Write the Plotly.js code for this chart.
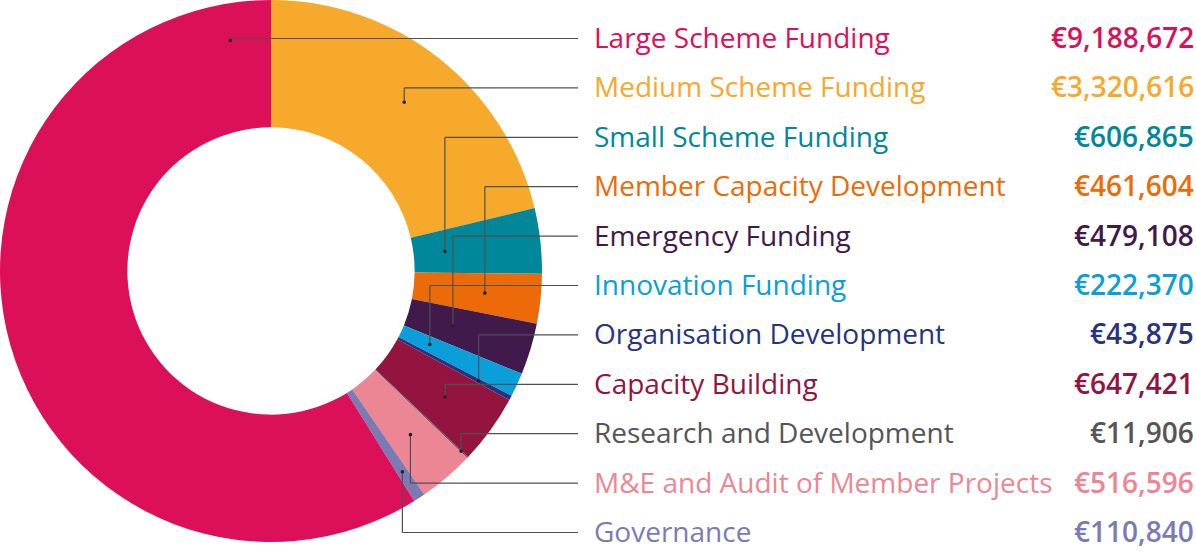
<!DOCTYPE html>
<html>
<head>
<meta charset="utf-8">
<script src="https://cdn.plot.ly/plotly-3.0.1.min.js"></script>
<style>html,body{margin:0;padding:0;background:#fff;}#chart{width:1196px;height:553px;}</style>
</head>
<body>
<div id="chart"></div>
<script>
// ---- data (legend order) ----
const categories = [
  "Large Scheme Funding",
  "Medium Scheme Funding",
  "Small Scheme Funding",
  "Member Capacity Development",
  "Emergency Funding",
  "Innovation Funding",
  "Organisation Development",
  "Capacity Building",
  "Research and Development",
  "M&E and Audit of Member Projects",
  "Governance"
];
const amounts = [9188672, 3320616, 606865, 461604, 479108, 222370, 43875, 647421, 11906, 516596, 110840];
const colors = ["#dc1059", "#f6a92b", "#00879a", "#ec6b08", "#3f1a4b", "#0a9edb", "#27337f", "#93143f", "#555555", "#ec8695", "#7b7bb4"];
const textColors = ["#dc1059", "#f6a92b", "#00879a", "#ec6b08", "#3f1a4b", "#0a9edb", "#27337f", "#93143f", "#555555", "#ec8695", "#7b7bb4"];

// ---- layout constants ----
const W = 1196, H = 553;
const pieSize = 542;                       // px, diameter of the donut
const pieDomainX = [0, pieSize / W];
const pieDomainY = [1 - pieSize / H, 1];
const hole = 0.53;
const leaderRadius = [234, 215, 175, 215, 190, 175, 235, 215, 262, 215, 240]; // px from centre
const labelX = 592, valueX = 1196, lineEndX = 578;
const labelTop = 37, labelStep = 49.4;
const fontFamily = "'Open Sans', 'DejaVu Sans', sans-serif";
const fontSize = 28;

// pie order: clockwise from 12 o'clock, Large scheme last
const order = [1, 2, 3, 4, 5, 6, 7, 8, 9, 10, 0];

const trace = {
  type: "pie",
  labels: order.map(i => categories[i]),
  values: order.map(i => amounts[i]),
  marker: { colors: order.map(i => colors[i]), line: { width: 0 } },
  sort: false,
  direction: "clockwise",
  rotation: 0,
  hole: hole,
  textinfo: "none",
  hoverinfo: "label+value+percent",
  showlegend: false,
  domain: { x: pieDomainX, y: pieDomainY }
};

// geometry of the pie (Plotly: radius = half of smaller domain side)
const domW = (pieDomainX[1] - pieDomainX[0]) * W;
const domH = (pieDomainY[1] - pieDomainY[0]) * H;
const cx = pieDomainX[0] * W + domW / 2;
const cy = (1 - pieDomainY[1]) * H + domH / 2;

const total = amounts.reduce((a, b) => a + b, 0);
const startAngle = {}, endAngle = {};
let acc = 0;
order.forEach(i => {
  startAngle[i] = acc / total * 360;
  acc += amounts[i];
  endAngle[i] = acc / total * 360;
});

const px = x => x / W;
const py = y => 1 - y / H;

const shapes = [];
const annotations = [];
const lineColor = "#505050";

categories.forEach((name, i) => {
  const ly = labelTop + i * labelStep;
  // anchor angle: middle of the slice, except the big slice which is anchored near its end (top)
  let ang = (startAngle[i] + endAngle[i]) / 2;
  if (i === 0) ang = endAngle[i] - 10;
  const rad = ang * Math.PI / 180;
  const r = leaderRadius[i];
  const dx = cx + r * Math.sin(rad);
  const dy = cy - r * Math.cos(rad);

  shapes.push({ type: "line", xref: "paper", yref: "paper", x0: px(dx), y0: py(dy), x1: px(dx), y1: py(ly + 1.5),
    line: { color: lineColor, width: 1.2 } });
  shapes.push({ type: "line", xref: "paper", yref: "paper", x0: px(dx), y0: py(ly + 1.5), x1: px(lineEndX), y1: py(ly + 1.5),
    line: { color: lineColor, width: 1.2 } });
  shapes.push({ type: "circle", xref: "paper", yref: "paper", x0: px(dx - 1.8), x1: px(dx + 1.8), y0: py(dy + 1.8), y1: py(dy - 1.8),
    fillcolor: "#222", line: { width: 0 } });

  annotations.push({ xref: "paper", yref: "paper", x: px(labelX), y: py(ly), xanchor: "left", yanchor: "middle",
    text: name.replace("&", "&amp;"), showarrow: false, font: { family: fontFamily, size: fontSize, color: textColors[i] } });
  annotations.push({ xref: "paper", yref: "paper", x: px(valueX), y: py(ly), xanchor: "right", yanchor: "middle",
    text: "€" + amounts[i].toLocaleString("en-US"), showarrow: false,
    font: { family: fontFamily, size: fontSize, weight: 600, color: textColors[i] } });
});

const layout = {
  width: W, height: H,
  margin: { l: 0, r: 0, t: 0, b: 0, pad: 0 },
  paper_bgcolor: "#fff",
  plot_bgcolor: "#fff",
  shapes: shapes,
  annotations: annotations
};

Plotly.newPlot("chart", [trace], layout, { displayModeBar: false, staticPlot: true });
</script>
</body>
</html>
